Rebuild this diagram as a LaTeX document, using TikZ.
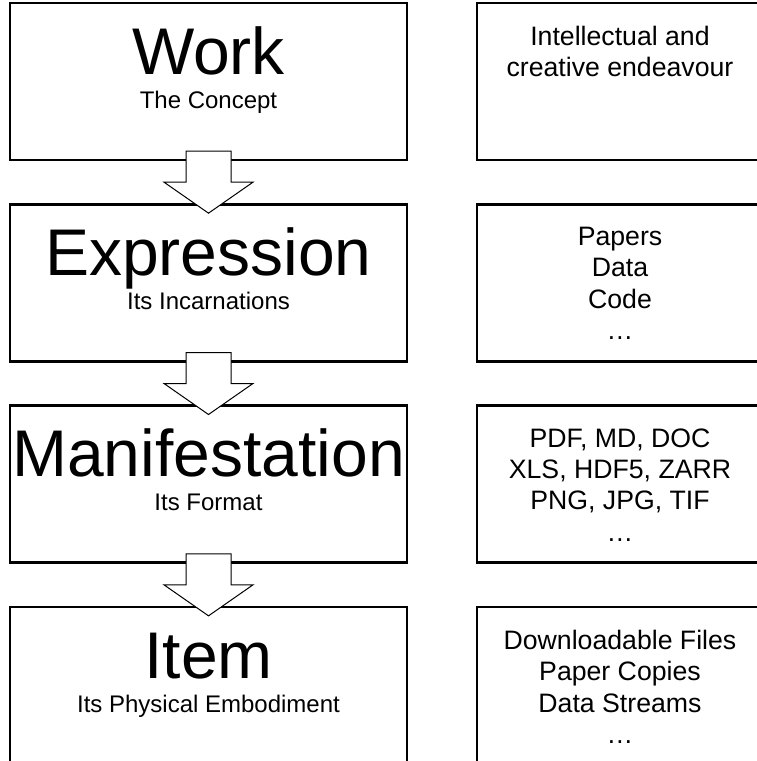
\documentclass[tikz,border=0pt]{standalone}
\usepackage{fontspec}
\setmainfont{Liberation Sans}
\usetikzlibrary{positioning, calc}

\begin{document}
\begin{tikzpicture}[x=0.75pt, y=-0.75pt,
        stufe/.style={draw, line width=2pt, outer sep=0pt, inner sep=0pt,
            minimum width=297.75pt, minimum height=117.75pt},
        info/.style={draw, line width=2pt, outer sep=0pt, inner sep=0pt,
            minimum width=214.5pt, minimum height=117.75pt},
        titel/.style={anchor=base, inner sep=0pt, font=\fontsize{49.5pt}{59pt}\selectfont},
        untertitel/.style={anchor=base, inner sep=0pt, font=\fontsize{18pt}{21pt}\selectfont},
        liste/.style={anchor=north, inner sep=0pt, align=center, font=\fontsize{20pt}{23.6pt}\selectfont},
        pfeil/.style={draw, line width=0.75pt, fill=white, line join=miter}
    ]
        \useasboundingbox (0,0) rectangle (757,761);
        \clip (0,0) rectangle (757,761);

        % linke Spalte
        \node[stufe] (work) at (208.5,81.5) {};
        \node[stufe, below=33.25pt of work] (expr) {};
        \node[stufe, below=33.25pt of expr] (manif) {};
        \node[stufe, below=33.25pt of manif] (item) {};

        % rechte Spalte
        \node[info, right=52.5pt of work] (workInfo) {};
        \node[info, right=52.5pt of expr] (exprInfo) {};
        \node[info, right=52.5pt of manif] (manifInfo) {};
        \node[info, right=52.5pt of item] (itemInfo) {};

        \node[titel] (workTitel) at ($(work.north)+(0,71)$) {Work};
        \node[untertitel] (workSub) at ($(work.north)+(0,105)$) {The Concept};
        \node[titel] (exprTitel) at ($(expr.north)+(0,71)$) {Expression};
        \node[untertitel] (exprSub) at ($(expr.north)+(0,105)$) {Its Incarnations};
        \node[titel] (manifTitel) at ($(manif.north)+(0,71)$) {Manifestation};
        \node[untertitel] (manifSub) at ($(manif.north)+(0,105)$) {Its Format};
        \node[titel] (itemTitel) at ($(item.north)+(0,71)$) {Item};
        \node[untertitel] (itemSub) at ($(item.north)+(0,105)$) {Its Physical Embodiment};

        \node[liste] (workListe) at ($(workInfo.north)+(0,22.5)$) {Intellectual and\\creative endeavour};
        \node[liste] (exprListe) at ($(exprInfo.north)+(0,22.5)$) {Papers\\Data\\Code\\\dots};
        \node[liste] (manifListe) at ($(manifInfo.north)+(0,22.5)$) {PDF, MD, DOC\\XLS, HDF5, ZARR\\PNG, JPG, TIF\\\dots};
        \node[liste] (itemListe) at ($(itemInfo.north)+(0,22.5)$) {Downloadable Files\\Paper Copies\\Data Streams\\\dots};

        % Blockpfeile zwischen den Stufen
        \foreach \oben/\unten in {work/expr, expr/manif, manif/item} {
            \coordinate (mitte) at ($(\oben.south)!0.5!(\unten.north)$);
            \draw[pfeil] ($(mitte)+(-22.5,-31)$) -- ++(45,0) -- ++(0,31) -- ++(22,0)
                -- ++(-44.5,31) -- ++(-44.5,-31) -- ++(22,0) -- cycle;
        }
    \end{tikzpicture}
\end{document}
